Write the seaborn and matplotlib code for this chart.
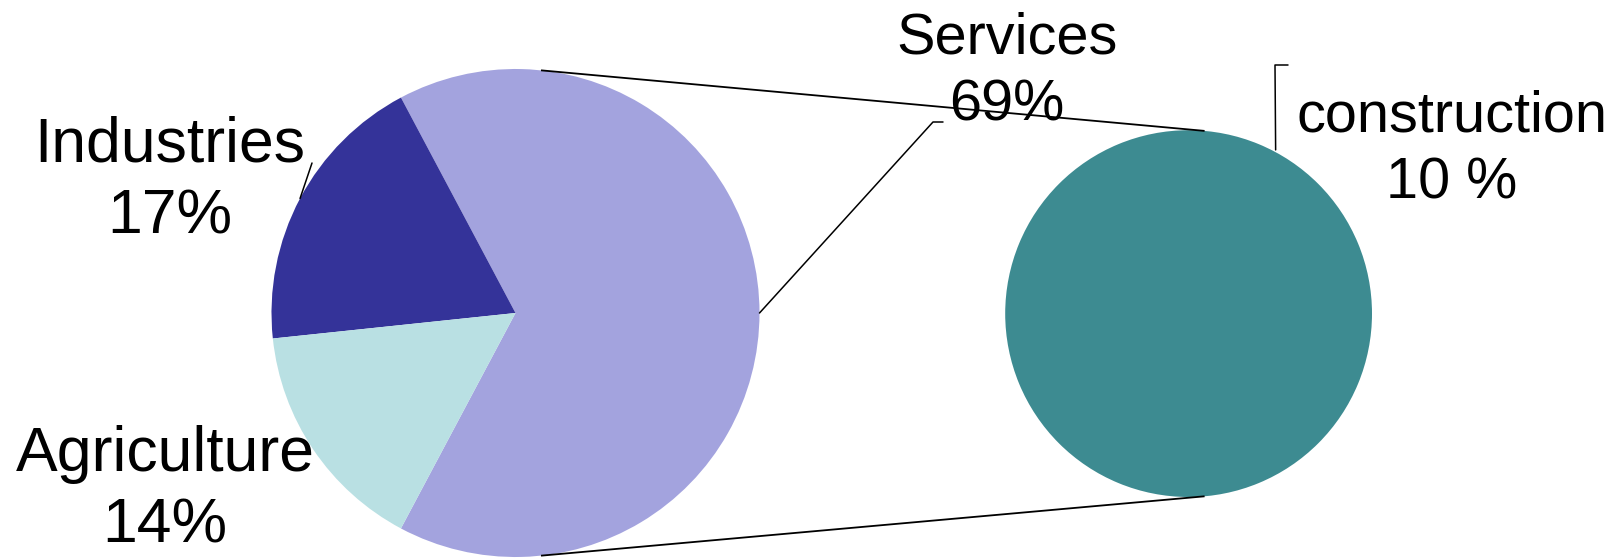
import numpy as np
import matplotlib.pyplot as plt
import seaborn as sns

# main pie (Services shown without construction, which is split out)
sectors = ["Services", "Industries", "Agriculture"]
shares = [59, 17, 14]
sector_labels = ["Services\n69%", "Industries\n17%", "Agriculture\n14%"]
sector_colors = ["#A3A3DE", "#343399", "#B9E0E3"]

# split-out slice
sub_sector = "construction"
sub_share = 10
sub_label = "construction\n10 %"
sub_color = "#3D8B91"

sns.set_theme(style="white")
plt.rcParams['font.family'] = ['Liberation Sans', 'DejaVu Sans']
plt.rcParams['text.color'] = 'black'

W, H = 1620, 558
fig = plt.figure(figsize=(16.2, 5.58), dpi=100)
ax = fig.add_axes([0, 0, 1, 1])

c1, r1 = (515.5, 245.0), 244.0
c2, r2 = (1188.6, 244.4), 183.4

# services wedge centred on 0 degrees
start = -180 * shares[0] / sum(shares)
wedges, _ = ax.pie(shares, colors=sector_colors, startangle=start,
                   center=c1, radius=r1, frame=True,
                   wedgeprops=dict(linewidth=0))
ax.pie([sub_share], colors=[sub_color], startangle=90,
       center=c2, radius=r2, frame=True, wedgeprops=dict(linewidth=0))

def pt(c, r, ang):
    a = np.deg2rad(ang)
    return c[0] + r * np.cos(a), c[1] + r * np.sin(a)

# connector lines between the two pies
for ang1, ang2 in [(84, 85), (-84, -85)]:
    x0, y0 = pt(c1, r1, ang1)
    x1, y1 = pt(c2, r2, ang2)
    ax.plot([x0, x1], [y0, y1], color="black", lw=1.3, solid_capstyle="butt")

# leader lines
mids = [(w.theta1 + w.theta2) / 2 for w in wedges]
sx, sy = pt(c1, r1, mids[0])
ax.plot([sx, 933, 943], [sy, 436, 436], color="black", lw=1.1)
ix, iy = pt(c1, r1, mids[1])
ax.plot([ix, 312], [iy, 395], color="black", lw=1.1)
cx, cy = pt(c2, r2 + 2, 62)
ax.plot([cx, 1275, 1288], [cy, 493, 493], color="black", lw=1.1)

# labels
ax.text(1007, 486, sector_labels[0], ha="center", va="center",
        fontsize=41.5, linespacing=1.32, color="black")
ax.text(170, 377, sector_labels[1], ha="center", va="center",
        fontsize=45, linespacing=1.28, color="black")
ax.text(165, 68, sector_labels[2], ha="center", va="center",
        fontsize=45, linespacing=1.28, color="black")
ax.text(1452, 408, sub_label, ha="center", va="center",
        fontsize=41.5, linespacing=1.32, color="black")

ax.set_xlim(0, W)
ax.set_ylim(0, H)
ax.set_aspect("equal")
ax.axis("off")

fig.savefig("out.png", dpi=100)
